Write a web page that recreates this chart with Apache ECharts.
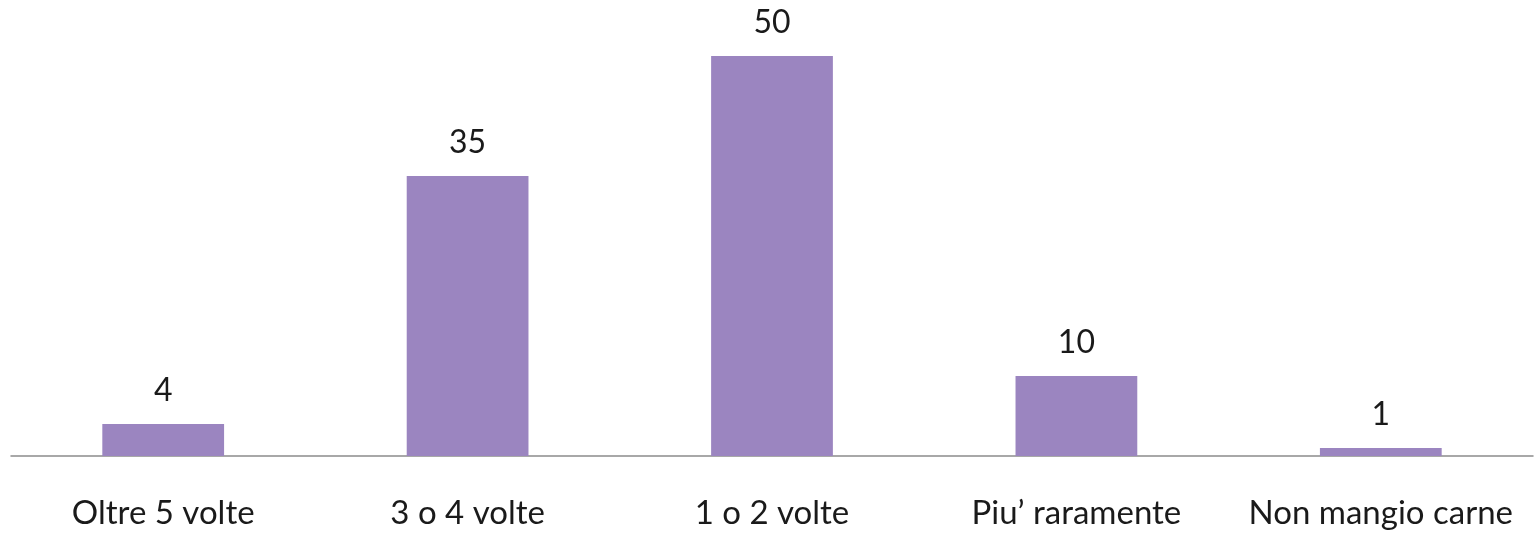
<!DOCTYPE html>
<html>
<head>
<meta charset="utf-8">
<script src="https://cdn.jsdelivr.net/npm/echarts@6/dist/echarts.min.js"></script>
<style>
  html, body { margin: 0; padding: 0; background: #ffffff; }
  #chart { width: 1535px; height: 533px; }
</style>
</head>
<body>
<div id="chart"></div>
<script>
// Frequenza di consumo di carne
const categories = ['Oltre 5 volte', '3 o 4 volte', '1 o 2 volte', 'Piu\u2019 raramente', 'Non mangio carne'];
const values = [4, 35, 50, 10, 1];

const chart = echarts.init(document.getElementById('chart'), null, { renderer: 'canvas' });

chart.setOption({
  animation: false,
  backgroundColor: '#ffffff',
  grid: { left: 11, right: 2, top: 56, bottom: 77, containLabel: false },
  xAxis: {
    type: 'category',
    data: categories,
    axisLine: { show: true, lineStyle: { color: '#8c8c8c', width: 1.5 } },
    axisTick: { show: false },
    axisLabel: {
      interval: 0,
      margin: 41,
      color: '#1a1a1a',
      fontFamily: 'Lato, "Open Sans", sans-serif',
      fontSize: 33
    }
  },
  yAxis: {
    type: 'value',
    min: 0,
    max: 50,
    show: false,
    splitLine: { show: false }
  },
  series: [{
    type: 'bar',
    data: values,
    barWidth: '40%',
    itemStyle: { color: '#9b85c0' },
    label: {
      show: true,
      position: 'top',
      distance: 17,
      color: '#1a1a1a',
      fontFamily: 'Lato, "Open Sans", sans-serif',
      fontSize: 32
    }
  }]
});
</script>
</body>
</html>
